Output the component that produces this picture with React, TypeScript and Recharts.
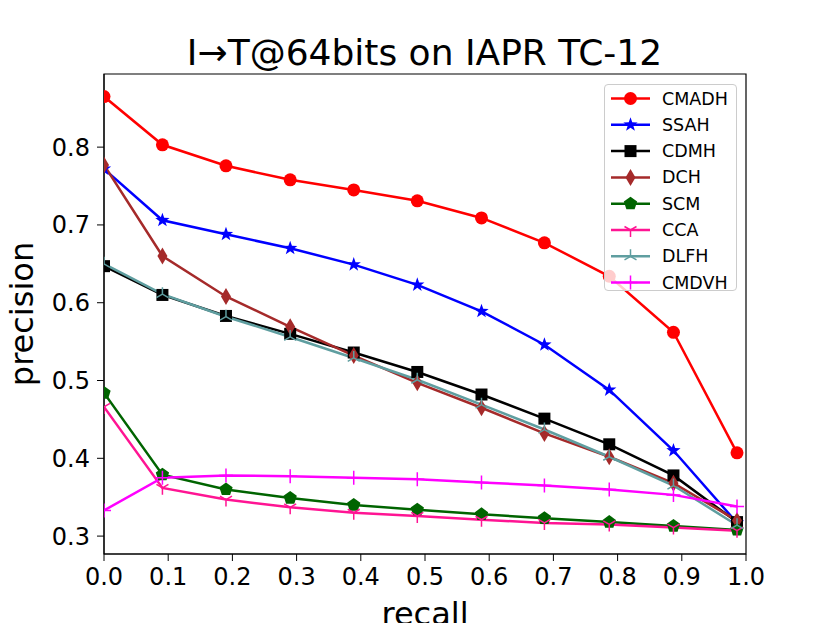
import React from 'react';
import { LineChart, Line, XAxis, YAxis, Legend, ReferenceArea, Label } from 'recharts';

// recall positions shared by every curve
const recall = [0, 0.091, 0.19, 0.29, 0.389, 0.488, 0.588, 0.686, 0.787, 0.887, 0.986];

const cmadh = [0.865, 0.803, 0.776, 0.758, 0.745, 0.731, 0.709, 0.677, 0.634, 0.562, 0.407];
const ssah = [0.772, 0.706, 0.688, 0.670, 0.649, 0.623, 0.589, 0.546, 0.488, 0.410, 0.317];
const cdmh = [0.647, 0.610, 0.583, 0.560, 0.536, 0.511, 0.482, 0.451, 0.418, 0.378, 0.318];
const dch = [0.777, 0.660, 0.608, 0.569, 0.532, 0.497, 0.465, 0.432, 0.402, 0.368, 0.320];
const scm = [0.484, 0.379, 0.360, 0.349, 0.340, 0.334, 0.328, 0.323, 0.318, 0.313, 0.308];
const cca = [0.466, 0.362, 0.347, 0.337, 0.330, 0.326, 0.321, 0.317, 0.315, 0.311, 0.307];
const dlfh = [0.650, 0.611, 0.582, 0.556, 0.529, 0.501, 0.469, 0.437, 0.402, 0.365, 0.314];
const cmdvh = [0.333, 0.375, 0.378, 0.377, 0.375, 0.373, 0.369, 0.365, 0.360, 0.353, 0.338];

const xTicks = [0, 0.1, 0.2, 0.3, 0.4, 0.5, 0.6, 0.7, 0.8, 0.9, 1.0];
const yTicks = [0.3, 0.4, 0.5, 0.6, 0.7, 0.8];

const series = [
  { name: 'CMADH', values: cmadh, color: '#ff0000', marker: 'circle' },
  { name: 'SSAH', values: ssah, color: '#0000ff', marker: 'star' },
  { name: 'CDMH', values: cdmh, color: '#000000', marker: 'square' },
  { name: 'DCH', values: dch, color: '#a52a2a', marker: 'diamond' },
  { name: 'SCM', values: scm, color: '#006400', marker: 'pentagon' },
  { name: 'CCA', values: cca, color: '#ff1493', marker: 'triDown' },
  { name: 'DLFH', values: dlfh, color: '#5f9ea0', marker: 'triUp' },
  { name: 'CMDVH', values: cmdvh, color: '#ff00ff', marker: 'plus' },
];

const data = recall.map((r, i) => {
  const row: Record<string, number> = { recall: r };
  series.forEach((s) => {
    row[s.name] = s.values[i];
  });
  return row;
});

const FONT = '"DejaVu Sans", sans-serif';

const polygon = (cx: number, cy: number, n: number, r: number, inner?: number) => {
  const pts: string[] = [];
  const count = inner ? n * 2 : n;
  for (let i = 0; i < count; i++) {
    const rad = inner && i % 2 === 1 ? inner : r;
    const a = -Math.PI / 2 + (i * Math.PI * 2) / count;
    pts.push(`${cx + rad * Math.cos(a)},${cy + rad * Math.sin(a)}`);
  }
  return pts.join(' ');
};

const Marker = ({ kind, cx, cy, color }: { kind: string; cx: number; cy: number; color: string }) => {
  switch (kind) {
    case 'circle':
      return <circle cx={cx} cy={cy} r={6.5} fill={color} />;
    case 'star':
      return <polygon points={polygon(cx, cy, 5, 7.5, 3)} fill={color} />;
    case 'square':
      return <rect x={cx - 6} y={cy - 6} width={12} height={12} fill={color} />;
    case 'diamond':
      return <polygon points={`${cx},${cy - 8.5} ${cx + 5},${cy} ${cx},${cy + 8.5} ${cx - 5},${cy}`} fill={color} />;
    case 'pentagon':
      return <polygon points={polygon(cx, cy, 5, 7)} fill={color} />;
    case 'triDown':
      return (
        <path
          d={`M${cx},${cy} L${cx},${cy + 7} M${cx},${cy} L${cx - 6},${cy - 3.5} M${cx},${cy} L${cx + 6},${cy - 3.5}`}
          stroke={color}
          strokeWidth={1.5}
          fill="none"
        />
      );
    case 'triUp':
      return (
        <path
          d={`M${cx},${cy} L${cx},${cy - 7} M${cx},${cy} L${cx - 6},${cy + 3.5} M${cx},${cy} L${cx + 6},${cy + 3.5}`}
          stroke={color}
          strokeWidth={1.5}
          fill="none"
        />
      );
    default:
      return (
        <path
          d={`M${cx - 7},${cy} L${cx + 7},${cy} M${cx},${cy - 7} L${cx},${cy + 7}`}
          stroke={color}
          strokeWidth={1.5}
          fill="none"
        />
      );
  }
};

const makeDot = (kind: string, color: string, name: string) => (props: any) => {
  const { cx, cy, index } = props;
  return (
    <g key={`${name}-${index}`}>
      <Marker kind={kind} cx={cx} cy={cy} color={color} />
    </g>
  );
};

const LegendBox = () => (
  <div
    style={{
      width: 133,
      height: 207,
      boxSizing: 'border-box',
      border: '1px solid #cccccc',
      borderRadius: 4,
      background: 'rgba(255,255,255,0.8)',
    }}
  >
    <svg width={131} height={205} style={{ display: 'block' }}>
      {series.map((s, i) => {
        const y = 13.5 + i * 26.3;
        return (
          <g key={s.name}>
            <line x1={6} x2={45} y1={y} y2={y} stroke={s.color} strokeWidth={2.5} />
            <Marker kind={s.marker} cx={25.5} cy={y} color={s.color} />
            <text x={57} y={y} dominantBaseline="central" fontSize={17.5} fontFamily={FONT} fill="#000">
              {s.name}
            </text>
          </g>
        );
      })}
    </svg>
  </div>
);

const App = () => (
  <div style={{ position: 'absolute', left: 0, top: 0, width: 830, height: 623, overflow: 'hidden', background: '#fff' }}>
    <LineChart width={830} height={623} data={data} margin={{ top: 74, right: 84, left: 0, bottom: 0 }}>
      <XAxis
        type="number"
        dataKey="recall"
        domain={[0, 1]}
        ticks={xTicks}
        interval={0}
        allowDataOverflow
        tickFormatter={(v: number) => v.toFixed(1)}
        height={69}
        tickSize={7}
        tickMargin={7}
        stroke="#000"
        tick={{ fontSize: 24, fill: '#000', fontFamily: FONT }}
      >
        <Label
          content={({ viewBox }: any) => (
            <text x={viewBox.x + viewBox.width / 2} y={625} textAnchor="middle" fontSize={32} fontFamily={FONT} fill="#000">
              recall
            </text>
          )}
        />
      </XAxis>
      <YAxis
        type="number"
        domain={[0.277, 0.894]}
        ticks={yTicks}
        interval={0}
        allowDataOverflow
        tickFormatter={(v: number) => v.toFixed(1)}
        width={104}
        tickSize={7}
        tickMargin={7}
        stroke="#000"
        tick={{ fontSize: 24, fill: '#000', fontFamily: FONT }}
      >
        <Label
          content={({ viewBox }: any) => {
            const x = 33;
            const y = viewBox.y + viewBox.height / 2;
            return (
              <text x={x} y={y} transform={`rotate(-90 ${x} ${y})`} textAnchor="middle" fontSize={32} fontFamily={FONT} fill="#000">
                precision
              </text>
            );
          }}
        />
      </YAxis>
      <ReferenceArea x1={0} x2={1} y1={0.277} y2={0.894} fill="none" stroke="#000" strokeWidth={1.2} ifOverflow="extendDomain" />
      {series.map((s) => (
        <Line
          key={s.name}
          type="linear"
          dataKey={s.name}
          stroke={s.color}
          strokeWidth={2.5}
          dot={makeDot(s.marker, s.color, s.name)}
          activeDot={false}
          isAnimationActive={false}
        />
      ))}
      <Legend
        layout="vertical"
        align="center"
        verticalAlign="middle"
        wrapperStyle={{ left: 604, top: 84, width: 133, height: 207 }}
        content={() => <LegendBox />}
      />
    </LineChart>
    <svg width={830} height={80} style={{ position: 'absolute', left: 0, top: 0, pointerEvents: 'none' }}>
      <text x={424.5} y={65} textAnchor="middle" fontSize={36} fontFamily={FONT} fill="#000">
        I→T@64bits on IAPR TC-12
      </text>
    </svg>
  </div>
);

export default App;
